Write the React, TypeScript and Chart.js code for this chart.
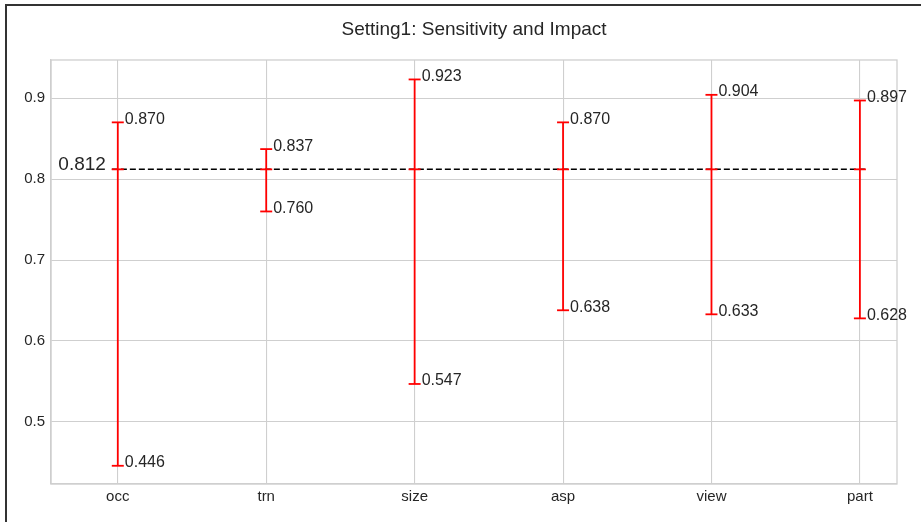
import React, { useEffect, useRef } from "react";
import { Chart, registerables } from "chart.js";

Chart.register(...registerables);

const categories = ["occ", "trn", "size", "asp", "view", "part"];
const lowValues = [0.446, 0.76, 0.547, 0.638, 0.633, 0.628];
const highValues = [0.87, 0.837, 0.923, 0.87, 0.904, 0.897];
const baseline = 0.812;
const yTicks = [0.5, 0.6, 0.7, 0.8, 0.9];
const titleText = "Setting1: Sensitivity and Impact";

const FONT = "'Liberation Sans', Arial, Helvetica, sans-serif";
const TEXT = "#262626";
const GRID = "#cfcfcf";

export default function App() {
  const ref = useRef<HTMLCanvasElement | null>(null);

  useEffect(() => {
    const canvas = ref.current;
    if (!canvas) return;

    const rangeData: any[] = [];
    categories.forEach((_, i) => {
      rangeData.push({ x: i, y: lowValues[i] });
      rangeData.push({ x: i, y: highValues[i] });
      rangeData.push({ x: i + 0.5, y: null });
    });
    const capData: any[] = [];
    categories.forEach((_, i) => {
      capData.push({ x: i, y: lowValues[i] });
      capData.push({ x: i, y: highValues[i] });
      capData.push({ x: i, y: baseline });
    });

    const decor = {
      id: "decor",
      beforeDraw(chart: any) {
        const ctx = chart.ctx;
        ctx.save();
        ctx.fillStyle = "#ffffff";
        ctx.fillRect(0, 0, chart.width, chart.height);
        ctx.strokeStyle = "#333333";
        ctx.lineWidth = 2;
        ctx.beginPath();
        ctx.moveTo(6, chart.height + 5);
        ctx.lineTo(6, 5);
        ctx.lineTo(chart.width + 5, 5);
        ctx.stroke();
        // title centred over the plot area
        const a = chart.chartArea;
        ctx.fillStyle = TEXT;
        ctx.font = `19px ${FONT}`;
        ctx.textAlign = "center";
        ctx.textBaseline = "middle";
        ctx.fillText(titleText, (a.left + a.right) / 2, 30);
        ctx.restore();
      },
      beforeDatasetsDraw(chart: any) {
        const ctx = chart.ctx;
        const a = chart.chartArea;
        ctx.save();
        ctx.strokeStyle = GRID;
        ctx.lineWidth = 1.3;
        ctx.strokeRect(a.left, a.top, a.right - a.left, a.bottom - a.top);
        ctx.restore();
      },
      afterDatasetsDraw(chart: any) {
        const ctx = chart.ctx;
        const xs = chart.scales.x;
        const ys = chart.scales.y;
        ctx.save();
        ctx.fillStyle = TEXT;
        ctx.textAlign = "left";
        ctx.textBaseline = "alphabetic";
        ctx.font = `16px ${FONT}`;
        categories.forEach((_, i) => {
          const px = xs.getPixelForValue(i) + 7;
          [lowValues[i], highValues[i]].forEach((v) => {
            ctx.fillText(v.toFixed(3), px, ys.getPixelForValue(v) + 1.5);
          });
        });
        ctx.font = `19px ${FONT}`;
        ctx.textAlign = "right";
        ctx.fillText(baseline.toFixed(3), xs.getPixelForValue(-0.08), ys.getPixelForValue(baseline) + 1);
        ctx.restore();
      },
    };

    const chart = new Chart(canvas, {
      type: "scatter",
      data: {
        datasets: [
          {
            type: "line",
            data: [
              { x: -0.04, y: baseline },
              { x: categories.length - 1 + 0.04, y: baseline },
            ],
            borderColor: "#000000",
            borderWidth: 1.5,
            borderDash: [6, 3],
            pointRadius: 0,
            order: 3,
          } as any,
          {
            type: "line",
            data: rangeData,
            borderColor: "#ff0000",
            borderWidth: 1.8,
            pointRadius: 0,
            spanGaps: false,
            order: 2,
          } as any,
          {
            type: "scatter",
            data: capData,
            pointStyle: "line",
            pointRadius: 6,
            pointBorderColor: "#ff0000",
            pointBorderWidth: 1.8,
            borderColor: "#ff0000",
            order: 1,
          } as any,
        ],
      },
      options: {
        animation: false,
        responsive: false,
        devicePixelRatio: 1,
        events: [],
        layout: { padding: { top: 60, right: 24, bottom: 0, left: 0 } },
        plugins: {
          legend: { display: false },
          tooltip: { enabled: false },
          title: { display: false },
        },
        scales: {
          x: {
            type: "linear",
            min: -0.45,
            max: 5.25,
            afterBuildTicks: (scale: any) => {
              scale.ticks = categories.map((_, i) => ({ value: i }));
            },
            afterFit: (scale: any) => {
              scale.height = 38;
            },
            ticks: {
              autoSkip: false,
              maxRotation: 0,
              padding: 4,
              color: TEXT,
              font: { family: FONT, size: 15 },
              callback: (v: any) => categories[Math.round(Number(v))] ?? "",
            },
            grid: { color: GRID, lineWidth: 1.1, drawTicks: false },
            border: { color: GRID, width: 1.3 },
          },
          y: {
            type: "linear",
            min: 0.4235,
            max: 0.947,
            afterBuildTicks: (scale: any) => {
              scale.ticks = yTicks.map((v) => ({ value: v }));
            },
            afterFit: (scale: any) => {
              scale.width = 51;
            },
            ticks: {
              padding: 6,
              color: TEXT,
              font: { family: FONT, size: 15 },
              callback: (v: any) => Number(v).toFixed(1),
            },
            grid: { color: GRID, lineWidth: 1.1, drawTicks: false },
            border: { color: GRID, width: 1.3 },
          },
        },
      },
      plugins: [decor],
    });

    return () => chart.destroy();
  }, []);

  return (
    <div style={{ position: "fixed", left: 0, top: 0, width: 921, height: 522, background: "#fff" }}>
      <canvas ref={ref} width={921} height={522} style={{ width: 921, height: 522, display: "block" }} />
    </div>
  );
}
